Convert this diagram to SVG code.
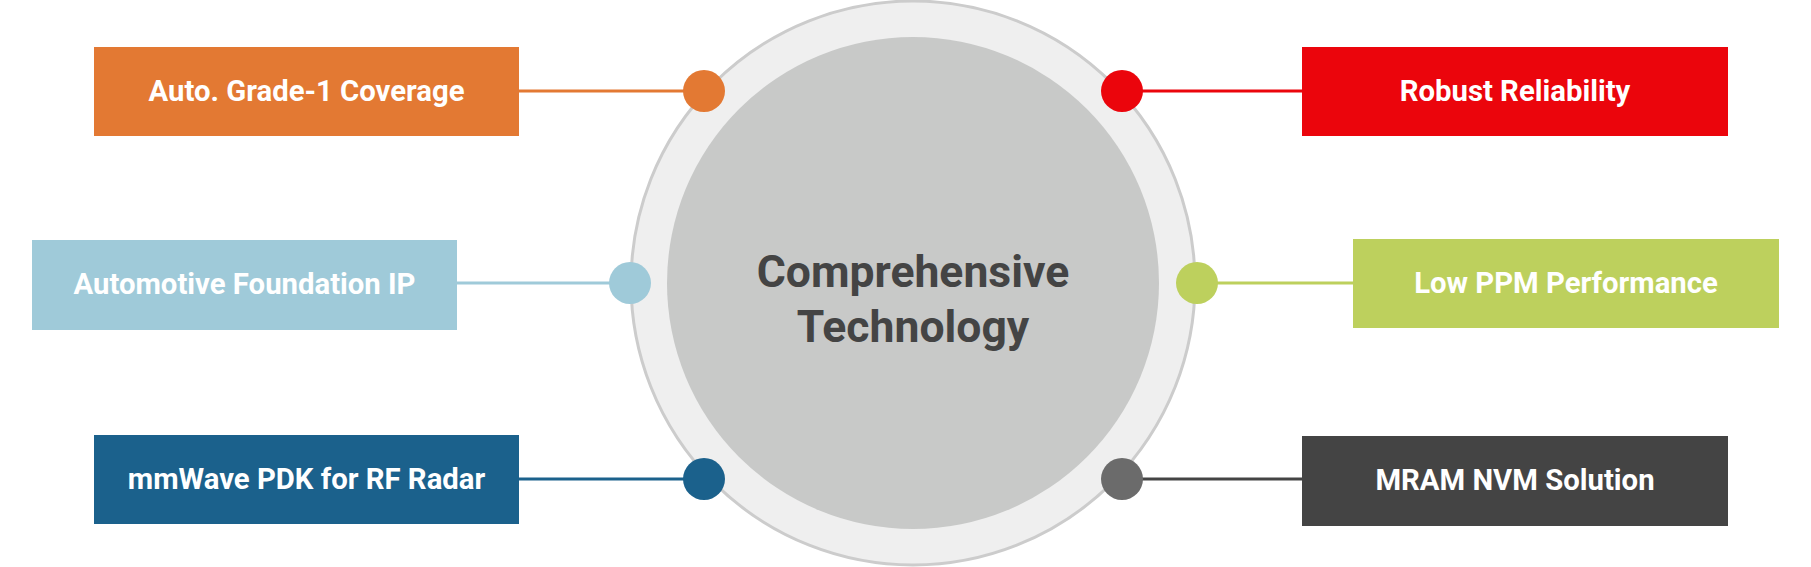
<svg xmlns="http://www.w3.org/2000/svg" width="1811" height="567" viewBox="0 0 1811 567">
<style>
.lbl{font-family:Roboto,"Liberation Sans",sans-serif;font-weight:bold;font-size:29.3px;fill:#ffffff;text-anchor:middle}
.ctr{font-family:Roboto,"Liberation Sans",sans-serif;font-weight:bold;font-size:44.5px;fill:#444444;text-anchor:middle}
.ln{stroke-width:3;fill:none}
</style>
<rect width="1811" height="567" fill="#ffffff"/>
<g id="hub">
<circle cx="913" cy="283" r="282" fill="#efefef" stroke="#cccccc" stroke-width="3"/>
<circle cx="913" cy="283" r="246" fill="#c8c9c8"/>
<text class="ctr" x="913" y="287">Comprehensive</text>
<text class="ctr" x="913" y="342">Technology</text>
</g>
<g id="connectors">
<line class="ln" x1="519" y1="91" x2="704" y2="91" stroke="#e37933"/>
<line class="ln" x1="457" y1="283" x2="630" y2="283" stroke="#9fcad9"/>
<line class="ln" x1="519" y1="479" x2="704" y2="479" stroke="#1b618c"/>
<line class="ln" x1="1122" y1="91" x2="1302" y2="91" stroke="#eb050c"/>
<line class="ln" x1="1197" y1="283" x2="1353" y2="283" stroke="#bdd05d"/>
<line class="ln" x1="1122" y1="479" x2="1302" y2="479" stroke="#444444"/>
</g>
<g id="dots">
<circle cx="704" cy="91" r="21" fill="#e37933"/>
<circle cx="630" cy="283" r="21" fill="#9fcad9"/>
<circle cx="704" cy="479" r="21" fill="#1b618c"/>
<circle cx="1122" cy="91" r="21" fill="#eb050c"/>
<circle cx="1197" cy="283" r="21" fill="#bdd05d"/>
<circle cx="1122" cy="479" r="21" fill="#6b6b6b"/>
</g>
<g id="node-grade1">
<rect x="94" y="47" width="425" height="89" fill="#e37933"/>
<text class="lbl" x="306.5" y="101">Auto. Grade-1 Coverage</text>
</g>
<g id="node-foundation">
<rect x="32" y="240" width="425" height="90" fill="#9fcad9"/>
<text class="lbl" x="244.5" y="294">Automotive Foundation IP</text>
</g>
<g id="node-mmwave">
<rect x="94" y="435" width="425" height="89" fill="#1b618c"/>
<text class="lbl" x="306.5" y="489">mmWave PDK for RF Radar</text>
</g>
<g id="node-reliability">
<rect x="1302" y="47" width="426" height="89" fill="#eb050c"/>
<text class="lbl" x="1515" y="101">Robust Reliability</text>
</g>
<g id="node-ppm">
<rect x="1353" y="239" width="426" height="89" fill="#bdd05d"/>
<text class="lbl" x="1566" y="293">Low PPM Performance</text>
</g>
<g id="node-mram">
<rect x="1302" y="436" width="426" height="90" fill="#444444"/>
<text class="lbl" x="1515" y="490">MRAM NVM Solution</text>
</g>
</svg>
